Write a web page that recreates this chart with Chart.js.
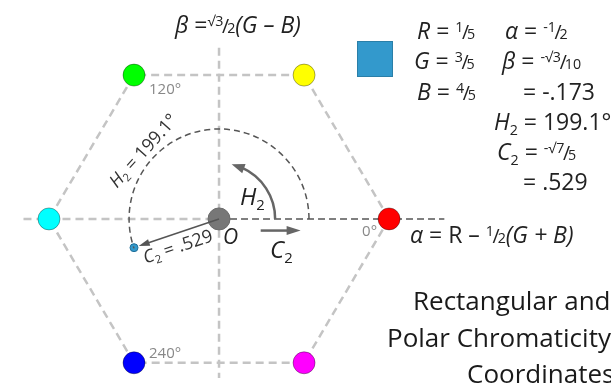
<!DOCTYPE html>
<html>
<head>
<meta charset="utf-8">
<script src="https://cdn.jsdelivr.net/npm/chart.js@4.4.1/dist/chart.umd.min.js"></script>
<style>
  html, body { margin: 0; padding: 0; background: #fff; }
  canvas { display: block; }
</style>
</head>
<body>
<canvas id="chromaChart" width="611" height="390"></canvas>
<script>
// hexagon corners in (alpha, beta), red first, going counter-clockwise
const vertexAlpha = [1, 0.5, -0.5, -1, -0.5, 0.5];
const vertexBeta = [0, 0.866, 0.866, 0, -0.866, -0.866];
const vertexColors = ["#ff0000", "#ffff00", "#00ff00", "#00ffff", "#0000ff", "#ff00ff"];

// sample colour R=1/5, G=3/5, B=4/5
const sampleAlpha = -0.5;
const sampleBeta = -0.173;
const hue = 199.1;
const chroma = 0.529;
const sampleColor = "#3399cc";

// axis extents
const alphaAxis = [-1.15, 0, 1.325];
const betaAxis = [1.03, -0.96];

const angleLabels = ["0°", "120°", "240°"];
const titleLines = ["Rectangular and", "Polar Chromaticity", "Coordinates"];

const hexPoints = vertexAlpha.map((a, i) => ({ x: a, y: vertexBeta[i] }));
hexPoints.push({ x: vertexAlpha[0], y: vertexBeta[0] });

function font(sz, it) {
    return (it ? "italic " : "") + sz + 'px "Open Sans", "DejaVu Sans", sans-serif';
}

// draws a run of text pieces: strings, {t, i}, {t, sub}, {frac: [num, den]}
function drawRuns(ctx, parts, x, y, size, dry) {
    let cx = x;
    ctx.textAlign = "left";
    ctx.textBaseline = "alphabetic";
    for (const p of parts) {
        const o = typeof p === "string" ? { t: p } : p;
        if (o.frac) {
            const fs = size * 0.62;
            ctx.font = font(fs, false);
            if (!dry) ctx.fillText(o.frac[0], cx, y - size * 0.32);
            cx += ctx.measureText(o.frac[0]).width - size * 0.06;
            ctx.font = font(size * 0.85, false);
            if (!dry) ctx.fillText("/", cx, y);
            cx += ctx.measureText("/").width - size * 0.09;
            ctx.font = font(fs, false);
            if (!dry) ctx.fillText(o.frac[1], cx, y);
            cx += ctx.measureText(o.frac[1]).width;
        } else {
            const fs = o.sub ? size * 0.62 : size;
            ctx.font = font(fs, o.i);
            if (!dry) ctx.fillText(o.t, cx, o.sub ? y + size * 0.2 : y);
            cx += ctx.measureText(o.t).width;
        }
    }
    return cx - x;
}

function arrowHead(ctx, tx, ty, ang, len, wid) {
    ctx.beginPath();
    ctx.moveTo(tx, ty);
    ctx.lineTo(tx - len * Math.cos(ang) + wid / 2 * Math.sin(ang), ty - len * Math.sin(ang) - wid / 2 * Math.cos(ang));
    ctx.lineTo(tx - len * Math.cos(ang) - wid / 2 * Math.sin(ang), ty - len * Math.sin(ang) + wid / 2 * Math.cos(ang));
    ctx.closePath();
    ctx.fill();
}

const annotations = {
    id: "annotations",
    afterDatasetsDraw(chart) {
        const ctx = chart.ctx;
        const X = chart.scales.x, Y = chart.scales.y;
        const cx = X.getPixelForValue(0), cy = Y.getPixelForValue(0);
        const unit = X.getPixelForValue(1) - cx;
        const deg = Math.PI / 180;
        ctx.save();

        // hue arc, dashed
        ctx.strokeStyle = "#555";
        ctx.lineWidth = 1.5;
        ctx.setLineDash([6, 4]);
        ctx.beginPath();
        ctx.arc(cx, cy, chroma * unit, 0, -hue * deg, true);
        ctx.stroke();
        ctx.setLineDash([]);

        // chroma vector from O to the sample point
        const sx = X.getPixelForValue(sampleAlpha), sy = Y.getPixelForValue(sampleBeta);
        const vAng = Math.atan2(sy - cy, sx - cx);
        const vLen = Math.hypot(sx - cx, sy - cy) - 5;
        const tipX = cx + vLen * Math.cos(vAng), tipY = cy + vLen * Math.sin(vAng);
        ctx.strokeStyle = "#555";
        ctx.fillStyle = "#555";
        ctx.lineWidth = 1.5;
        ctx.beginPath();
        ctx.moveTo(cx, cy);
        ctx.lineTo(cx + (vLen - 8) * Math.cos(vAng), cy + (vLen - 8) * Math.sin(vAng));
        ctx.stroke();
        arrowHead(ctx, tipX, tipY, vAng, 11, 7);

        // H2 curved arrow
        const rH = 0.33 * unit;
        ctx.strokeStyle = "#666";
        ctx.fillStyle = "#666";
        ctx.lineWidth = 2.5;
        ctx.beginPath();
        ctx.arc(cx, cy, rH, 0, -66 * deg, true);
        ctx.stroke();
        const bX = cx + rH * Math.cos(-64 * deg), bY = cy + rH * Math.sin(-64 * deg);
        const hX = cx + rH * Math.cos(-77 * deg), hY = cy + rH * Math.sin(-77 * deg);
        arrowHead(ctx, hX, hY, Math.atan2(hY - bY, hX - bX), 13, 10);

        // C2 straight arrow
        const ax0 = X.getPixelForValue(0.245), ax1 = X.getPixelForValue(0.48), ay = Y.getPixelForValue(-0.07);
        ctx.beginPath();
        ctx.moveTo(ax0, ay);
        ctx.lineTo(ax1 - 10, ay);
        ctx.stroke();
        arrowHead(ctx, ax1, ay, 0, 14, 9);

        // labels near the origin
        ctx.fillStyle = "#222";
        drawRuns(ctx, [{ t: "O", i: 1 }], cx + 4, cy + 25, 21);
        drawRuns(ctx, [{ t: "C", i: 1 }, { t: "2", sub: 1 }], cx + 51, cy + 39, 24);
        drawRuns(ctx, [{ t: "H", i: 1 }, { t: "2", sub: 1 }], cx + 21, cy - 14, 24);

        // angle labels at the vertices
        ctx.fillStyle = "#888";
        const vx = i => X.getPixelForValue(vertexAlpha[i]);
        const vy = i => Y.getPixelForValue(vertexBeta[i]);
        drawRuns(ctx, [angleLabels[0]], vx(0) - 27, vy(0) + 17, 15);
        drawRuns(ctx, [angleLabels[1]], vx(2) + 15, vy(2) + 19, 15);
        drawRuns(ctx, [angleLabels[2]], vx(4) + 15, vy(4) - 5, 15);

        // rotated value labels
        ctx.fillStyle = "#333";
        const cParts = [{ t: "C", i: 1 }, { t: "2", sub: 1 }, " = .529"];
        const mx = (cx + sx) / 2, my = (cy + sy) / 2;
        ctx.save();
        ctx.translate(mx, my);
        ctx.rotate(vAng + Math.PI);
        const cw = drawRuns(ctx, cParts, 0, 0, 18, true);
        drawRuns(ctx, cParts, -cw / 2 - 3, 19, 18);
        ctx.restore();

        const hParts = [{ t: "H", i: 1 }, { t: "2", sub: 1 }, " = 199.1°"];
        const at = 138 * deg, rT = chroma * unit + 6;
        ctx.save();
        ctx.translate(cx + rT * Math.cos(at), cy - rT * Math.sin(at));
        ctx.rotate(-at + Math.PI / 2);
        const hw = drawRuns(ctx, hParts, 0, 0, 18, true);
        drawRuns(ctx, hParts, -hw / 2, 0, 18);
        ctx.restore();

        // axis titles
        ctx.fillStyle = "#222";
        drawRuns(ctx, [{ t: "β", i: 1 }, " =", { frac: ["√3", "2"] }, { t: "(G – B)", i: 1 }], 175, 33, 23);
        drawRuns(ctx, [{ t: "α", i: 1 }, " = R – ", { frac: ["1", "2"] }, { t: "(G + B)", i: 1 }], 410, 243, 23);

        // sample swatch and its values
        ctx.fillStyle = sampleColor;
        ctx.strokeStyle = "#2a7fa8";
        ctx.lineWidth = 1;
        ctx.fillRect(357, 41, 36, 36);
        ctx.strokeRect(357.5, 41.5, 35, 35);

        ctx.fillStyle = "#222";
        const sz = 23;
        drawRuns(ctx, [{ t: "R", i: 1 }, " = ", { frac: ["1", "5"] }], 417, 39, sz);
        drawRuns(ctx, [{ t: "G", i: 1 }, " = ", { frac: ["3", "5"] }], 414, 69, sz);
        drawRuns(ctx, [{ t: "B", i: 1 }, " = ", { frac: ["4", "5"] }], 417, 100, sz);
        drawRuns(ctx, [{ t: "α", i: 1 }, " = ", { frac: ["-1", "2"] }], 505, 39, sz);
        drawRuns(ctx, [{ t: "β", i: 1 }, " = ", { frac: ["-√3", "10"] }], 502, 69, sz);
        drawRuns(ctx, ["= -.173"], 523, 100, sz);
        drawRuns(ctx, [{ t: "H", i: 1 }, { t: "2", sub: 1 }, " = 199.1°"], 494, 130, sz);
        drawRuns(ctx, [{ t: "C", i: 1 }, { t: "2", sub: 1 }, " = ", { frac: ["-√7", "5"] }], 497, 160, sz);
        drawRuns(ctx, ["= .529"], 523, 190, sz);

        // title
        ctx.fillStyle = "#1a1a1a";
        drawRuns(ctx, [titleLines[0]], 413, 310, 26);
        drawRuns(ctx, [titleLines[1]], 387, 347, 26);
        drawRuns(ctx, [titleLines[2]], 467, 383, 26);

        ctx.restore();
    }
};

new Chart(document.getElementById("chromaChart"), {
    type: "scatter",
    data: {
        datasets: [
            {
                // colour corners
                data: hexPoints.slice(0, 6),
                pointRadius: 11,
                pointBackgroundColor: vertexColors,
                pointBorderColor: "rgba(0,0,0,0.35)",
                pointBorderWidth: 1,
                order: 1
            },
            {
                // origin
                data: [{ x: 0, y: 0 }],
                pointRadius: 11,
                pointBackgroundColor: "#777",
                pointBorderColor: "#6a6a6a",
                pointBorderWidth: 1,
                order: 2
            },
            {
                // sample point
                data: [{ x: sampleAlpha, y: sampleBeta }],
                pointRadius: 4,
                pointBackgroundColor: sampleColor,
                pointBorderColor: "#1f6f99",
                pointBorderWidth: 1,
                order: 3
            },
            {
                data: hexPoints,
                showLine: true,
                pointRadius: 0,
                borderColor: "#c4c4c4",
                borderWidth: 2.5,
                borderDash: [8, 5],
                order: 6
            },
            {
                data: [{ x: alphaAxis[0], y: 0 }, { x: alphaAxis[1], y: 0 }],
                showLine: true,
                pointRadius: 0,
                borderColor: "#c4c4c4",
                borderWidth: 2.5,
                borderDash: [8, 5],
                order: 5
            },
            {
                data: [{ x: alphaAxis[1], y: 0 }, { x: alphaAxis[2], y: 0 }],
                showLine: true,
                pointRadius: 0,
                borderColor: "#555",
                borderWidth: 1.5,
                borderDash: [7, 4],
                order: 4
            },
            {
                data: [{ x: 0, y: betaAxis[0] }, { x: 0, y: betaAxis[1] }],
                showLine: true,
                pointRadius: 0,
                borderColor: "#c4c4c4",
                borderWidth: 2.5,
                borderDash: [8, 5],
                order: 7
            }
        ]
    },
    options: {
        responsive: false,
        animation: false,
        events: [],
        devicePixelRatio: 1,
        layout: { padding: 0 },
        plugins: { legend: { display: false }, tooltip: { enabled: false } },
        scales: {
            x: { type: "linear", min: -1.2175, max: 2.2345, display: false },
            y: { type: "linear", min: -0.9576, max: 1.2458, display: false }
        }
    },
    plugins: [annotations]
});
</script>
</body>
</html>
